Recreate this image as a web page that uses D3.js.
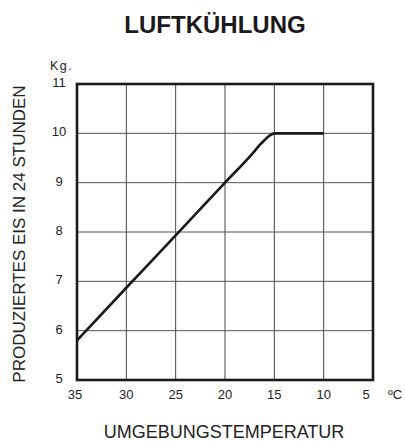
<!DOCTYPE html>
<html><head><meta charset="utf-8">
<script src="https://cdn.jsdelivr.net/npm/d3@7"></script>
<style>body{margin:0;background:#fff}</style>
</head><body>
<svg id="c" width="405" height="441"></svg>
<script>
const xTicks = [35, 30, 25, 20, 15, 10, 5];
const yTicks = [5, 6, 7, 8, 9, 10, 11];
const temps = [35, 30, 25, 20, 17, 16.5, 16, 15.5, 15, 14, 10];
const ice   = [5.8, 6.87, 7.93, 9.0, 9.64, 9.76, 9.86, 9.95, 10, 10, 10];

const svg = d3.select("#c");
const font = "Liberation Sans, Arial, sans-serif";
const L = 77, R = 373, T = 84, B = 380;
const x = d3.scaleLinear().domain([35, 5]).range([L, R]);
const y = d3.scaleLinear().domain([5, 11]).range([B, T]);

// grid
svg.append("g").selectAll("line").data(xTicks.slice(1, -1)).join("line")
  .attr("x1", d => x(d)).attr("x2", d => x(d)).attr("y1", T).attr("y2", B)
  .attr("stroke", "#444").attr("stroke-width", 1);
svg.append("g").selectAll("line").data(yTicks.slice(1, -1)).join("line")
  .attr("y1", d => y(d)).attr("y2", d => y(d)).attr("x1", L).attr("x2", R)
  .attr("stroke", "#555").attr("stroke-width", 1);

// data line
const line = d3.line().x((d, i) => x(temps[i])).y((d, i) => y(ice[i])).curve(d3.curveMonotoneX);
svg.append("path").datum(ice).attr("d", line).attr("fill", "none")
  .attr("stroke", "#1a1a1a").attr("stroke-width", 2.6).attr("stroke-linejoin", "round");

// frame
svg.append("rect").attr("x", L).attr("y", T).attr("width", R - L).attr("height", B - T)
  .attr("fill", "none").attr("stroke", "#1a1a1a").attr("stroke-width", 2.6);

// x tick labels
svg.append("g").selectAll("text").data(xTicks).join("text")
  .attr("x", d => x(d) + (d === 5 ? -7 : (d === 35 ? -2 : 0))).attr("y", 399)
  .attr("text-anchor", "middle").attr("font-family", font).attr("font-size", 13)
  .attr("fill", "#222").text(d => d);
svg.append("text").attr("x", 388).attr("y", 399).attr("font-family", font)
  .attr("font-size", 13).attr("fill", "#222").text("ºC");

// y tick labels
svg.append("g").selectAll("text").data(yTicks).join("text")
  .attr("x", 59).attr("y", d => y(d) + 3)
  .attr("text-anchor", "middle").attr("font-family", font).attr("font-size", 13)
  .attr("fill", "#222").text(d => d);
svg.append("text").attr("x", 50).attr("y", 70).attr("font-family", font)
  .attr("font-size", 12.5).attr("letter-spacing", 1.5).attr("fill", "#222").text("Kg.");

// title
svg.append("text").attr("x", 215).attr("y", 33).attr("text-anchor", "middle")
  .attr("font-family", font).attr("font-size", 24).attr("font-weight", "bold")
  .attr("fill", "#1a1a1a").text("LUFTKÜHLUNG");

// axis titles
svg.append("text").attr("x", 224).attr("y", 438).attr("text-anchor", "middle")
  .attr("font-family", font).attr("font-size", 18).attr("fill", "#222")
  .text("UMGEBUNGSTEMPERATUR");
svg.append("text").attr("transform", "translate(25,234) rotate(-90)")
  .attr("text-anchor", "middle").attr("font-family", font).attr("font-size", 17)
  .attr("fill", "#222").text("PRODUZIERTES EIS IN 24 STUNDEN");
</script>
</body></html>
